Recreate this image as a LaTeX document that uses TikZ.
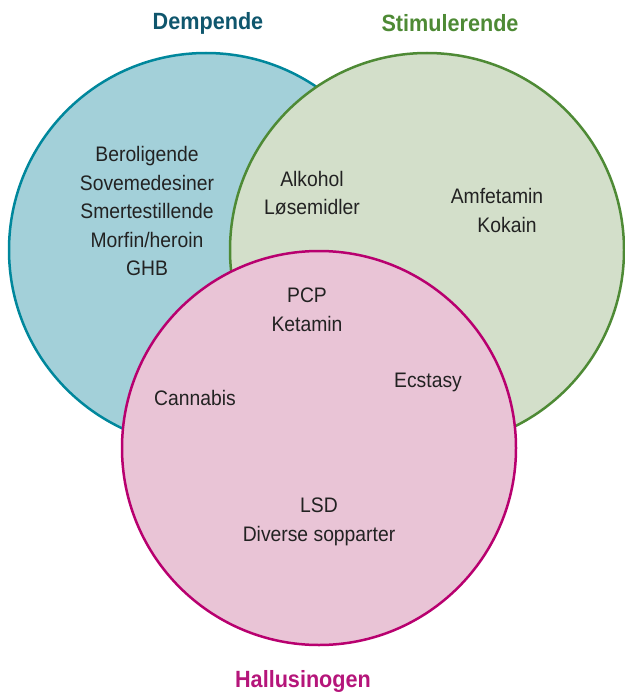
\documentclass[tikz,border=0pt]{standalone}
\usepackage{fontspec}
\setmainfont[FakeStretch=0.92]{Liberation Sans}
\definecolor{bfill}{HTML}{A3D0D9}
\definecolor{bline}{HTML}{00879C}
\definecolor{btitle}{HTML}{0F566D}
\definecolor{gfill}{HTML}{D3DFCA}
\definecolor{gline}{HTML}{4E8A35}
\definecolor{pfill}{HTML}{E9C4D6}
\definecolor{pline}{HTML}{B8006F}
\definecolor{ptitle}{HTML}{B5157A}
\definecolor{txt}{HTML}{222222}
\begin{document}
\begin{tikzpicture}[x=1pt,y=-1pt,
  setcircle/.style={circle,minimum size=394pt,inner sep=0pt,line width=2.5pt},
  item/.style={align=center,text=txt,font=\fontsize{21}{28.5}\selectfont,inner sep=0pt},
  ttl/.style={font=\fontsize{23.5}{26}\selectfont\bfseries,inner sep=0pt}]
\useasboundingbox (0,0) rectangle (624,693);
\node[setcircle,draw=bline,fill=bfill] (dem) at (206,250) {};
\node[setcircle,draw=gline,fill=gfill] (sti) at (427,250) {};
\node[setcircle,draw=pline,fill=pfill] (hal) at (319,448) {};
\node[ttl,text=btitle] (tdem) at (208,23) {Dempende};
\node[ttl,text=gline] (tsti) at (450,23) {Stimulerende};
\node[ttl,text=ptitle] (thal) at (303,681) {Hallusinogen};
\node[item] (d1) at (147,211) {Beroligende\\Sovemedesiner\\Smertestillende\\Morfin/heroin\\GHB};
\node[item] (ds) at (312,193) {Alkohol\\Løsemidler};
\node[item] (s1) at (497,196) {Amfetamin};
\node[item] (s2) at (507,225) {Kokain};
\node[item] (dsh) at (307,310) {PCP\\Ketamin};
\node[item] (dh) at (195,398) {Cannabis};
\node[item] (sh) at (428,382) {Ecstasy};
\node[item] (h1) at (319,522) {LSD\\Diverse sopparter};
\end{tikzpicture}
\end{document}
